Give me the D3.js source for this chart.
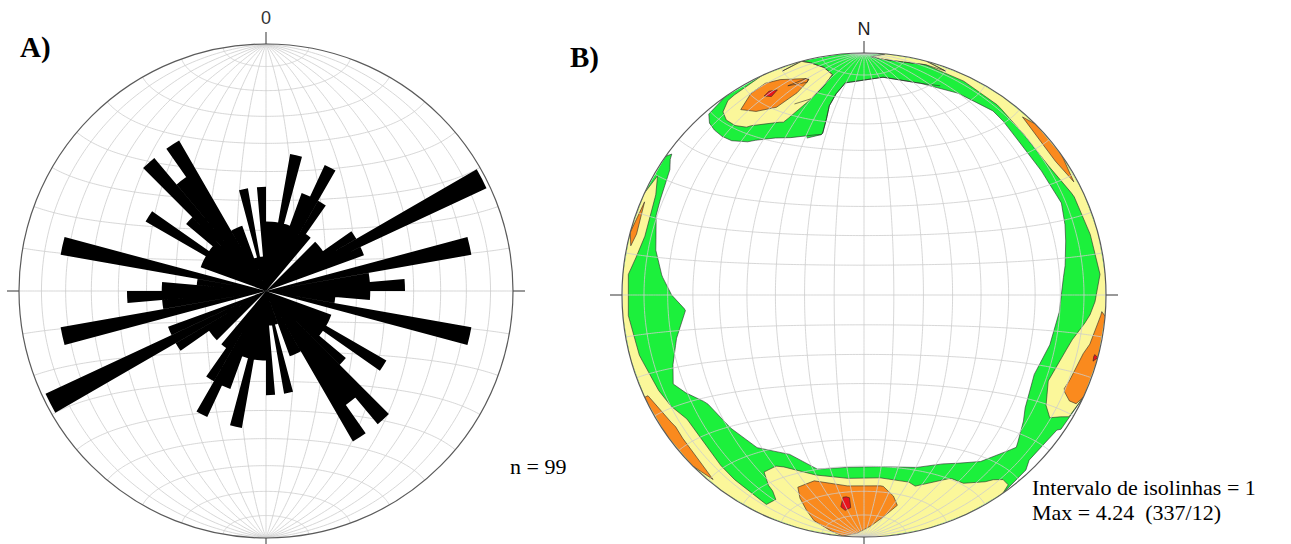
<!DOCTYPE html>
<html>
<head>
<meta charset="utf-8">
<script src="https://cdn.jsdelivr.net/npm/d3@7"></script>
<style>
  body { margin: 0; background: #fff; }
  svg { display: block; }
  .serif { font-family: "Liberation Serif", "Times New Roman", serif; }
  .sans { font-family: "Liberation Sans", Arial, sans-serif; }
</style>
</head>
<body>
<div id="chart"></div>
<script>
// A) rose diagram, 5 degree bins from 0 to 180 (axial data, the other half is the mirror)
const binWidth = 5;
const roseCounts = [2, 2, 4, 2, 3, 4, 3, 2, 0, 2, 2, 3, 7, 3, 0, 6, 3, 4,
                    3, 2, 6, 0, 2, 2, 4, 2, 3, 5, 4, 5, 2, 2, 1, 3, 1, 3];
const roseMax = 7;

// B) density grid: columns = trend, rings = distance from centre (equal-area, 1 = primitive)
const trends = d3.range(5, 360, 10);
const ringRadii = [0.63, 0.69, 0.745, 0.795, 0.84, 0.88, 0.92, 0.955, 0.985];
const ring630 = d3.range(36).map(() => 0.3);
const ring690 = [0.3, 0.3, 0.3, 0.3, 0.3, 0.3, 0.3, 0.3, 0.3, 0.3, 0.3, 0.3, 0.3, 0.3, 0.3, 0.3, 0.4, 0.6,
                 0.6, 0.6, 0.4, 0.3, 0.3, 0.3, 0.3, 0.3, 0.4, 0.3, 0.3, 0.3, 0.3, 0.3, 0.3, 0.6, 1.05, 0.3];
const ring745 = [0.3, 0.3, 0.3, 0.3, 0.3, 0.3, 0.3, 0.3, 0.3, 0.3, 0.4, 0.5, 0.3, 0.3, 0.3, 0.6, 1.1, 1.6,
                 1.5, 1.0, 1.3, 0.7, 0.6, 0.5, 0.3, 0.4, 1.05, 0.3, 0.3, 0.3, 0.3, 0.3, 0.5, 1.4, 1.3, 0.3];
const ring795 = [0.3, 0.3, 0.3, 0.3, 0.3, 0.3, 0.3, 0.3, 0.5, 0.8, 1.0, 1.3, 0.8, 0.3, 0.4, 1.4, 1.8, 3.1,
                 3.1, 3.0, 2.2, 1.3, 1.2, 1.1, 0.4, 0.9, 1.4, 0.6, 0.3, 0.3, 0.3, 0.3, 1.2, 2.1, 1.6, 0.3];
const ring840 = [0.3, 0.3, 0.3, 0.3, 0.3, 0.3, 0.3, 0.6, 1.2, 1.4, 1.6, 2.0, 1.3, 0.4, 1.0, 2.05, 2.2, 3.4,
                 4.06, 3.4, 2.4, 1.5, 1.5, 1.5, 0.7, 1.3, 1.5, 1.05, 0.3, 0.3, 0.3, 0.3, 1.9, 2.6, 2.0, 0.6];
const ring880 = [0.3, 0.3, 0.3, 0.3, 0.4, 0.6, 0.6, 1.3, 1.5, 1.5, 2.2, 2.5, 1.7, 0.9, 1.5, 2.2, 2.4, 3.4,
                 4.1, 3.3, 2.1, 1.5, 1.7, 1.8, 1.1, 1.5, 1.5, 1.5, 0.8, 0.3, 0.3, 0.3, 2.5, 3.6, 2.7, 1.0];
const ring920 = [1.5, 1.4, 1.0, 0.7, 1.5, 1.7, 1.4, 1.5, 1.5, 1.8, 2.7, 3.1, 1.8, 1.3, 1.9, 2.4, 2.5, 3.0,
                 3.8, 3.0, 1.8, 1.8, 2.2, 2.4, 1.6, 1.6, 1.5, 1.5, 1.6, 0.6, 0.3, 0.3, 2.8, 4.24, 3.1, 1.5];
const ring955 = [1.5, 1.5, 1.6, 1.9, 2.6, 2.7, 1.9, 1.7, 1.6, 2.2, 3.3, 3.5, 1.3, 1.2, 2.2, 2.5, 2.6, 2.7,
                 3.6, 2.8, 2.0, 2.4, 2.8, 3.1, 2.5, 1.9, 1.7, 1.7, 2.4, 2.1, 0.7, 0.3, 2.6, 3.3, 2.5, 1.5];
const ring985 = [2.2, 2.0, 2.2, 2.6, 3.2, 3.6, 2.7, 2.4, 2.1, 3.1, 4.05, 3.6, 0.8, 0.6, 2.4, 2.6, 2.6, 2.6,
                 3.2, 2.5, 2.3, 2.7, 3.4, 3.5, 3.0, 2.4, 2.1, 2.1, 3.4, 2.9, 1.1, 0.3, 1.9, 2.4, 2.1, 1.6];
const densityRings = [ring630, ring690, ring745, ring795, ring840, ring880, ring920, ring955, ring985];
const isolines = [1, 2, 3, 4];
const isoColors = ['#1cf03c', '#fbf79a', '#fa8a1e', '#e8141c'];

const W = 1291, H = 544;
const rad = Math.PI / 180;
const netA = {cx: 266, cy: 291, r: 247};
const netB = {cx: 864, cy: 295, r: 242};

const svg = d3.select('#chart').append('svg').attr('width', W).attr('height', H);

// equal-area (Schmidt) lower hemisphere; x east, y north, z down
function project(x, y, z) {
  const k = 1 / Math.sqrt(1 + z);
  return [x * k, y * k];
}

function drawGrid(g, net) {
  const x = d3.scaleLinear().domain([-1, 1]).range([net.cx - net.r, net.cx + net.r]);
  const y = d3.scaleLinear().domain([-1, 1]).range([net.cy + net.r, net.cy - net.r]);
  const line = d3.line().x(p => x(p[0])).y(p => y(p[1]));
  const grid = g.append('g').attr('fill', 'none').attr('stroke', '#cdcdcd').attr('stroke-width', 0.8);

  // great circles through N and S
  d3.range(10, 91, 10).forEach(dip => {
    [1, -1].forEach(side => {
      if (dip === 90 && side === -1) return;
      const pts = d3.range(-90, 90.01, 1).map(t =>
        project(side * Math.cos(t * rad) * Math.cos(dip * rad), Math.sin(t * rad), Math.cos(t * rad) * Math.sin(dip * rad)));
      grid.append('path').attr('d', line(pts));
    });
  });
  // small circles about the N-S axis
  d3.range(-80, 81, 10).forEach(a => {
    const pts = d3.range(0, 180.01, 1).map(s =>
      project(Math.cos(a * rad) * Math.cos(s * rad), Math.sin(a * rad), Math.cos(a * rad) * Math.sin(s * rad)));
    grid.append('path').attr('d', line(pts));
  });
}

function drawFrame(g, net) {
  g.append('circle')
    .attr('cx', net.cx).attr('cy', net.cy).attr('r', net.r)
    .attr('fill', 'none').attr('stroke', '#5a5a5a').attr('stroke-width', 1.2);
  const t = 12;
  const ticks = [
    [net.cx, net.cy - net.r - t, net.cx, net.cy - net.r],
    [net.cx, net.cy + net.r, net.cx, net.cy + net.r + t],
    [net.cx - net.r - t, net.cy, net.cx - net.r, net.cy],
    [net.cx + net.r, net.cy, net.cx + net.r + t, net.cy]
  ];
  g.selectAll('line.tick').data(ticks).enter().append('line')
    .attr('class', 'tick')
    .attr('x1', d => d[0]).attr('y1', d => d[1])
    .attr('x2', d => d[2]).attr('y2', d => d[3])
    .attr('stroke', '#555').attr('stroke-width', 1.2);
}

// ---------- A) rose ----------
const gA = svg.append('g');
gA.append('circle').attr('cx', netA.cx).attr('cy', netA.cy).attr('r', netA.r).attr('fill', '#fff');
drawGrid(gA, netA);

const roseBins = d3.range(360 / binWidth).map(i => ({
  start: i * binWidth,
  count: roseCounts[i % roseCounts.length]
}));
const rScale = d3.scaleLinear().domain([0, roseMax]).range([0, netA.r * 0.985]);
const arc = d3.arc()
  .innerRadius(0)
  .outerRadius(d => rScale(d.count))
  .startAngle(d => d.start * rad)
  .endAngle(d => (d.start + binWidth) * rad);

// one path for all petals so neighbouring wedges show no seams
gA.append('path')
  .attr('transform', `translate(${netA.cx},${netA.cy})`)
  .attr('d', roseBins.filter(d => d.count > 0).map(d => arc(d)).join(''))
  .attr('fill', '#000');

drawFrame(gA, netA);

gA.append('text')
  .attr('class', 'sans')
  .attr('x', netA.cx).attr('y', 24)
  .attr('text-anchor', 'middle')
  .style('font-size', '18px')
  .attr('fill', '#333')
  .text('0');

svg.append('text')
  .attr('class', 'serif')
  .attr('x', 20).attr('y', 57)
  .style('font-size', '29px').style('font-weight', 'bold')
  .text('A)');

svg.append('text')
  .attr('class', 'serif')
  .attr('x', 510).attr('y', 474)
  .style('font-size', '22px')
  .text('n = 99');

// ---------- B) density contours ----------
const gB = svg.append('g');
gB.append('circle').attr('cx', netB.cx).attr('cy', netB.cy).attr('r', netB.r).attr('fill', '#fff');

// pad the trend columns on both sides so that contours run across north
const pad = 2;
const nT = trends.length;
const gw = nT + 2 * pad, gh = densityRings.length;
const padTrends = d3.range(gw).map(k => trends[(k - pad + nT) % nT] + 360 * Math.floor((k - pad) / nT));
const values = [];
densityRings.forEach(ring => {
  d3.range(gw).forEach(k => values.push(ring[(k - pad + nT) % nT]));
});

const trendScale = d3.scaleLinear().domain([0.5, gw - 0.5]).range([padTrends[0], padTrends[gw - 1]]);
const rhoScale = d3.scaleLinear()
  .domain([0].concat(d3.range(gh).map(j => j + 0.5), [gh]))
  .range([ringRadii[0] - 0.03].concat(ringRadii, [1]));

function toScreen(xc, yc) {
  const t = trendScale(xc) * rad, rho = rhoScale(yc);
  return [netB.cx + netB.r * rho * Math.sin(t), netB.cy - netB.r * rho * Math.cos(t)];
}

const contours = d3.contours().size([gw, gh]).thresholds(isolines)(values);
const geo = d3.geoPath(d3.geoTransform({
  point: function(x, y) {
    const p = toScreen(x, y);
    this.stream.point(p[0], p[1]);
  }
}));

gB.append('clipPath').attr('id', 'clipB')
  .append('circle').attr('cx', netB.cx).attr('cy', netB.cy).attr('r', netB.r);

const cg = gB.append('g').attr('clip-path', 'url(#clipB)');
contours.forEach((c, i) => {
  c.coordinates.forEach(poly => {
    cg.append('path')
      .attr('d', geo({type: 'Polygon', coordinates: poly}))
      .attr('fill', isoColors[i]);
  });
});

// outlines of the bands, leaving out the pieces that lie on the grid edge
function onEdge(a, b) {
  return (a[0] === 0 && b[0] === 0) || (a[0] === gw && b[0] === gw) ||
         (a[1] === 0 && b[1] === 0) || (a[1] === gh && b[1] === gh);
}
const outline = d3.path();
contours.forEach(c => {
  c.coordinates.forEach(poly => {
    poly.forEach(ring => {
      let pen = false;
      for (let i = 1; i < ring.length; i++) {
        const a = ring[i - 1], b = ring[i];
        if (onEdge(a, b)) { pen = false; continue; }
        const pa = toScreen(a[0], a[1]), pb = toScreen(b[0], b[1]);
        if (!pen) outline.moveTo(pa[0], pa[1]);
        outline.lineTo(pb[0], pb[1]);
        pen = true;
      }
    });
  });
});
cg.append('path').attr('d', outline.toString())
  .attr('fill', 'none').attr('stroke', '#2a2a2a').attr('stroke-width', 0.6);

drawGrid(gB, netB);
drawFrame(gB, netB);

gB.append('text')
  .attr('class', 'sans')
  .attr('x', netB.cx).attr('y', 35)
  .attr('text-anchor', 'middle')
  .style('font-size', '18px')
  .attr('fill', '#222')
  .text('N');

svg.append('text')
  .attr('class', 'serif')
  .attr('x', 570).attr('y', 67)
  .style('font-size', '29px').style('font-weight', 'bold')
  .text('B)');

svg.append('text')
  .attr('class', 'serif')
  .attr('x', 1032).attr('y', 495)
  .style('font-size', '22px')
  .text('Intervalo de isolinhas = 1');

svg.append('text')
  .attr('class', 'serif')
  .attr('x', 1032).attr('y', 520)
  .style('font-size', '22px')
  .style('white-space', 'pre')
  .text('Max = 4.24  (337/12)');
</script>
</body>
</html>
